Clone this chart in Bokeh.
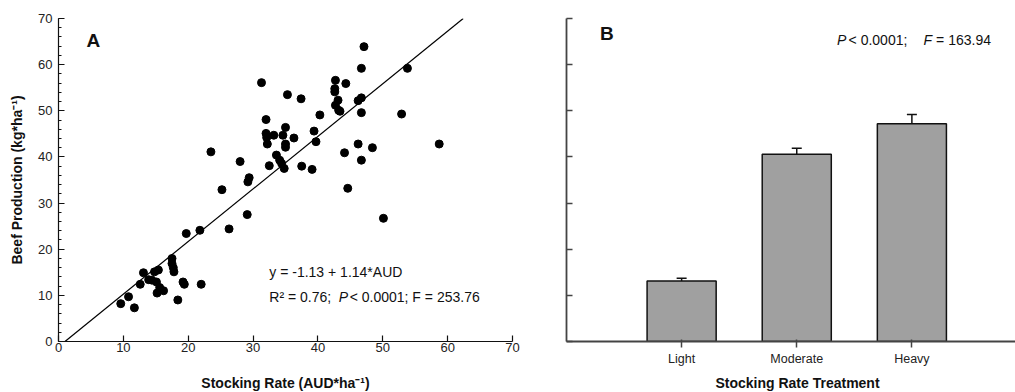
import numpy as np
from bokeh.plotting import figure
from bokeh.layouts import row, column
from bokeh.models import (ColumnDataSource, Label, SingleIntervalTicker, FixedTicker,
                          Whisker, TeeHead)
from bokeh.embed import file_html
from bokeh.resources import INLINE

# ---------------- data ----------------
stocking_rate = [9.6, 10.8, 11.7, 12.6, 13.1, 13.9, 14.4, 14.8, 15.4, 15.1, 15.2, 15.6, 16.2,
                 17.5, 17.5, 17.7, 17.8, 18.4, 19.2, 19.4, 19.7, 21.8, 22.0, 23.5, 25.2, 26.3,
                 28.0, 29.1, 29.2, 29.4, 31.3, 32.0, 32.0, 32.1, 32.2, 32.5, 33.2, 33.6, 34.1,
                 34.4, 34.6, 35.0, 35.0, 35.0, 34.8, 35.3, 36.3, 37.4, 37.5, 39.1, 39.4, 39.7,
                 40.3, 42.7, 42.6, 42.6, 42.7, 43.1, 43.2, 43.4, 44.3, 44.1, 44.6, 46.2, 46.2,
                 46.7, 46.7, 46.7, 46.7, 47.1, 48.4, 50.1, 52.9, 53.8, 58.7]
beef_production = [8.2, 9.7, 7.3, 12.4, 14.9, 13.4, 13.3, 15.1, 15.5, 12.9, 10.5, 11.7, 11.0,
                   18.0, 16.9, 16.0, 15.1, 9.0, 12.9, 12.4, 23.4, 24.1, 12.4, 41.1, 32.9, 24.4,
                   39.0, 27.5, 34.6, 35.5, 56.1, 48.1, 45.1, 44.2, 42.8, 38.1, 44.7, 40.4, 39.3,
                   38.6, 44.7, 46.4, 42.8, 42.1, 37.5, 53.5, 44.1, 52.6, 38.0, 37.3, 45.6, 43.3,
                   49.1, 56.6, 54.8, 54.1, 51.2, 52.3, 50.1, 49.9, 55.9, 40.9, 33.2, 42.8, 52.2,
                   52.8, 59.2, 49.6, 39.3, 63.9, 42.0, 26.7, 49.3, 59.2, 42.8]
intercept = -1.13
slope = 1.14
fit_x_range = [1.0, 62.4]

treatments = ["Light", "Moderate", "Heavy"]
treatment_mean = [13.1, 40.6, 47.2]
treatment_se = [0.6, 1.3, 2.0]

x_title_a = "Stocking Rate (AUD*ha\u207b\u00b9)"
y_title_a = "Beef Production (kg*ha\u207b\u00b9)"
x_title_b = "Stocking Rate Treatment"

FONT = "Liberation Sans"
INK = "#111111"


def lab(p, x, y, text, size="14px", style="normal", align="left", baseline="alphabetic"):
    p.add_layout(Label(x=x, y=y, text=text, text_font=FONT, text_font_size=size,
                       text_font_style=style, text_color=INK, text_align=align,
                       text_baseline=baseline))


def title_strip(width, cx, text):
    t = figure(width=width, height=24, x_range=(0, width), y_range=(0, 24),
               output_backend="svg", toolbar_location=None,
               x_axis_type=None, y_axis_type=None,
               min_border_left=0, min_border_right=0, min_border_top=0, min_border_bottom=0)
    t.xgrid.visible = False
    t.ygrid.visible = False
    t.outline_line_color = None
    lab(t, cx, 10, text, size="14px", style="bold", align="center", baseline="middle")
    return t


# ---------------- panel A ----------------
p1 = figure(width=530, height=368, x_range=(0, 70), y_range=(0, 70),
            output_backend="svg", toolbar_location=None,
            min_border_left=58, min_border_right=18, min_border_top=18, min_border_bottom=27)
p1.xgrid.visible = False
p1.ygrid.visible = False
p1.outline_line_color = None

p1.xaxis.ticker = SingleIntervalTicker(interval=10, num_minor_ticks=0)
p1.yaxis.ticker = SingleIntervalTicker(interval=10, num_minor_ticks=5)
for ax in (p1.xaxis[0], p1.yaxis[0]):
    ax.axis_line_color = INK
    ax.axis_line_width = 1.2
    ax.major_tick_in = 6
    ax.major_tick_out = 0
    ax.major_tick_line_color = INK
    ax.major_tick_line_width = 1.2
    ax.major_label_text_font = FONT
    ax.major_label_text_font_size = "13px"
    ax.major_label_text_color = "#222222"
    ax.axis_label_text_font = FONT
    ax.axis_label_text_font_size = "14px"
    ax.axis_label_text_font_style = "bold"
    ax.axis_label_text_color = INK
p1.xaxis.minor_tick_line_color = None
p1.yaxis.minor_tick_in = 3
p1.yaxis.minor_tick_out = 0
p1.yaxis.minor_tick_line_color = INK
p1.xaxis.major_label_standoff = 1
p1.yaxis.major_label_standoff = 6
p1.yaxis.axis_label_standoff = 10
p1.yaxis.axis_label = y_title_a

fx = np.array(fit_x_range)
p1.line(fx, intercept + slope * fx, line_color="black", line_width=1.2)
p1.scatter(stocking_rate, beef_production, size=8, fill_color="black", line_color="black")

lab(p1, 4.3, 65.2, "A", size="19px", style="bold")
lab(p1, 32.5, 15.0, "y = -1.13 + 1.14*AUD")
lab(p1, 32.5, 9.75, "R\u00b2 = 0.76;")
lab(p1, 43.2, 9.75, "P", style="italic")
lab(p1, 44.9, 9.75, "< 0.0001; F = 253.76")

# ---------------- panel B ----------------
p2 = figure(width=485, height=368, x_range=(0, 3.9), y_range=(0, 70),
            output_backend="svg", toolbar_location=None,
            min_border_left=36, min_border_right=0, min_border_top=18, min_border_bottom=27)
p2.xgrid.visible = False
p2.ygrid.visible = False
p2.outline_line_color = None

xpos = [1, 2, 3]
src = ColumnDataSource(dict(
    x=xpos, top=treatment_mean,
    upper=[m + s for m, s in zip(treatment_mean, treatment_se)],
    lower=[m - s for m, s in zip(treatment_mean, treatment_se)],
))
p2.vbar(x="x", top="top", width=0.6, bottom=0, source=src,
        fill_color="#a0a0a0", line_color=INK, line_width=1.5)
p2.add_layout(Whisker(source=src, base="x", upper="upper", lower="lower",
                      line_color=INK, line_width=1.5,
                      upper_head=TeeHead(size=10, line_color=INK, line_width=1.5),
                      lower_head=TeeHead(size=10, line_color=INK, line_width=1.5)))

p2.yaxis.ticker = SingleIntervalTicker(interval=10, num_minor_ticks=0)
p2.yaxis.major_label_overrides = {v: "" for v in range(0, 80, 10)}
p2.yaxis.major_label_standoff = 0
p2.yaxis.major_tick_in = 6
p2.yaxis.major_tick_out = 0
p2.yaxis.minor_tick_line_color = None
p2.xaxis.ticker = FixedTicker(ticks=xpos)
p2.xaxis.major_label_overrides = {i: t for i, t in zip(xpos, treatments)}
p2.xaxis.major_tick_line_color = None
p2.xaxis.minor_tick_line_color = None
for ax in (p2.xaxis[0], p2.yaxis[0]):
    ax.axis_line_color = "#444444"
    ax.axis_line_width = 1.8
    ax.major_tick_line_color = "#444444"
    ax.major_tick_line_width = 1.5
    ax.major_label_text_font = FONT
    ax.major_label_text_font_size = "12.5px"
    ax.major_label_text_color = "#222222"
p2.xaxis.major_label_standoff = 4

lab(p2, 0.29, 66.7, "B", size="19px", style="bold")
lab(p2, 2.35, 65.4, "P", style="italic")
lab(p2, 2.45, 65.4, "< 0.0001;")
lab(p2, 3.10, 65.4, "F", style="italic")
lab(p2, 3.21, 65.4, "= 163.94")

# ---------------- x-axis titles (below the panels) ----------------
t1 = title_strip(530, 285, x_title_a)
t2 = title_strip(485, 267, x_title_b)

layout = column(row(p1, p2, spacing=0), row(t1, t2, spacing=0), spacing=0)
open("out.html", "w").write(file_html(layout, INLINE))
